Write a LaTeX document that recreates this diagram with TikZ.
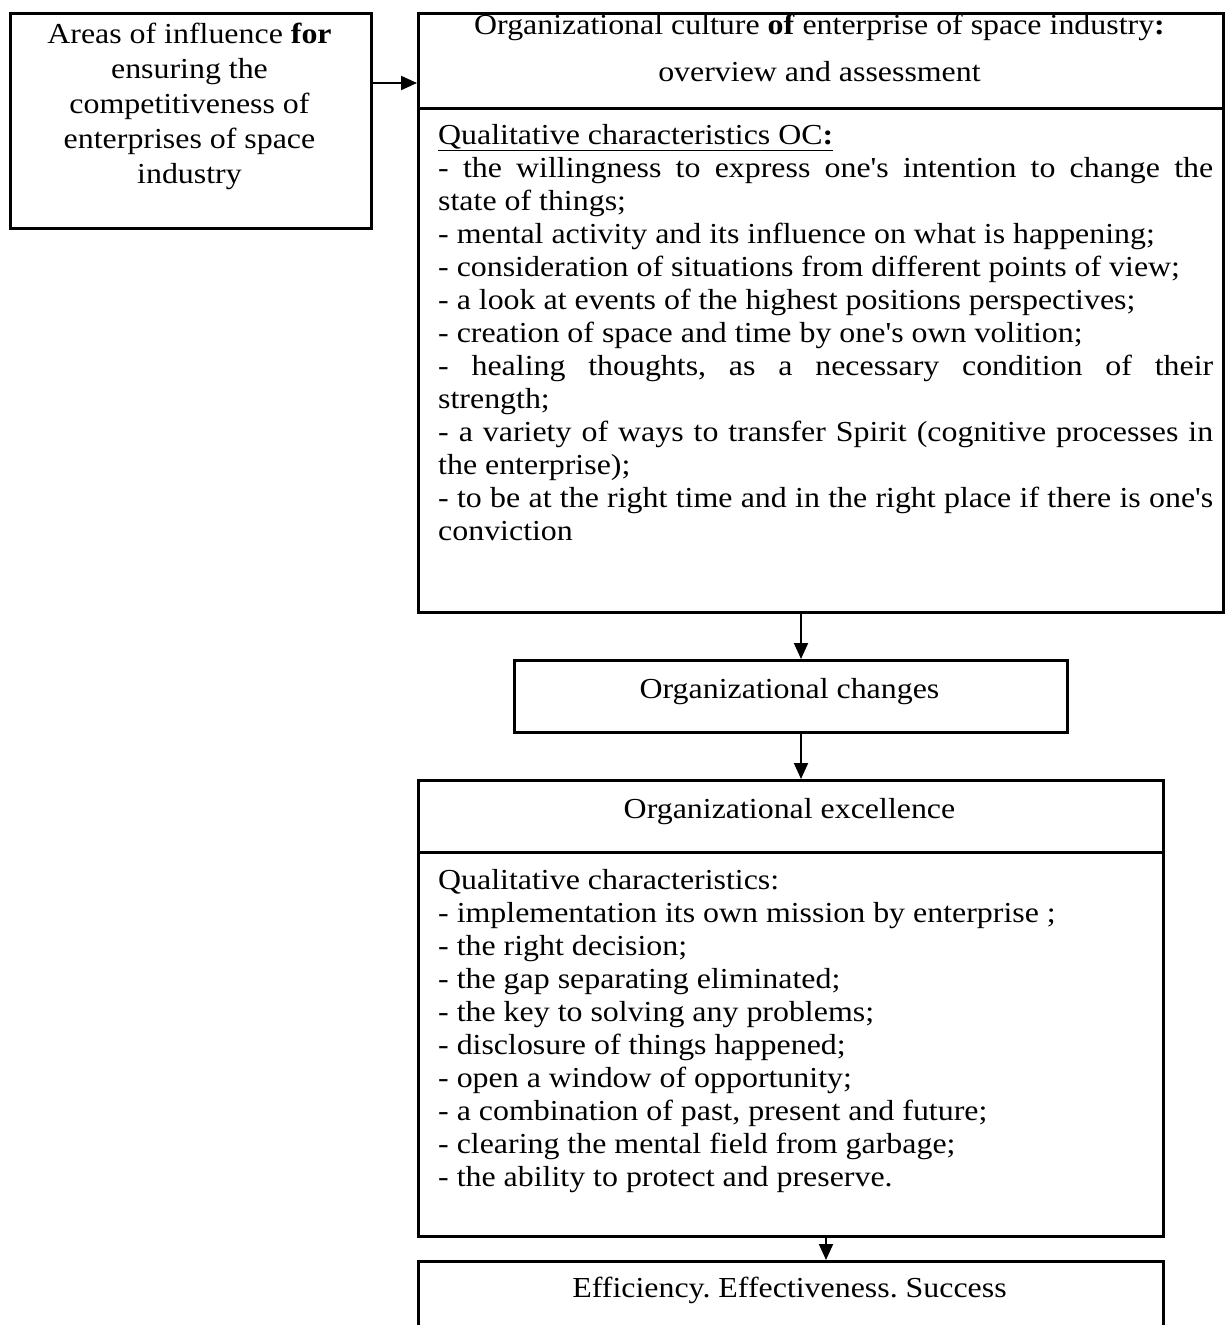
\documentclass[tikz,border=0pt]{standalone}
\usepackage{fontspec}
\setmainfont{Liberation Serif}[Ligatures=TeXOff, FakeStretch=1.1]
\usetikzlibrary{arrows.meta,calc}
\begin{document}
\frenchspacing
\begin{tikzpicture}[x=1pt,y=-1pt,
  box/.style={draw, line width=2.6pt, inner sep=0pt, anchor=north west},
  arr/.style={line width=2pt, -{Triangle[length=16pt,width=14pt]}},
  txt/.style={inner sep=0pt, font=\fontsize{29}{33}\selectfont\frenchspacing},
  lft/.style={inner sep=0pt, font=\fontsize{29}{35}\selectfont\frenchspacing},
  ttl/.style={inner sep=0pt, font=\fontsize{29}{47}\selectfont\frenchspacing}
]
\useasboundingbox (0,0) rectangle (1224,1325);
% boxes
\node[box, minimum width=361pt, minimum height=215pt] (left) at (9,12) {};
\node[box, minimum width=805pt, minimum height=95pt] (rhead) at (417,12) {};
\node[box, minimum width=805pt, minimum height=504pt] (rbody) at (417,107) {};
\node[box, minimum width=553pt, minimum height=72pt] (changes) at (513,659) {};
\node[box, minimum width=745pt, minimum height=72pt] (ehead) at (417,779) {};
\node[box, minimum width=745pt, minimum height=384pt] (ebody) at (417,851) {};
\node[box, minimum width=745pt, minimum height=140pt] (eff) at (417,1260) {};
% texts
\node[lft, align=center, anchor=north] (ltext) at (189.5,18.5)
  {\strut Areas of influence \textbf{for}\\ensuring the\\competitiveness of\\enterprises of space\\industry};
\node[ttl, align=center, anchor=north] (rtitle) at (819.5,1.1)
  {\strut Organizational culture \textbf{of} enterprise of space industry\textbf{:}\\overview and assessment};
\node[txt, align=left, anchor=north west] (rtext) at (438,120.9)
  {\strut\underline{Qualitative characteristics OC\textbf{:}}\\
   \makebox[775pt][s]{- the willingness to express one's intention to change the}\\
   state of things;\\
   - mental activity and its influence on what is happening;\\
   - consideration of situations from different points of view;\\
   - a look at events of the highest positions perspectives;\\
   - creation of space and time by one's own volition;\\
   \makebox[775pt][s]{- healing thoughts, as a necessary condition of their}\\
   strength;\\
   \makebox[775pt][s]{- a variety of ways to transfer Spirit (cognitive processes in}\\
   the enterprise);\\
   \makebox[775pt][s]{- to be at the right time and in the right place if there is one's}\\
   conviction};
\node[txt, anchor=base] (ctext) at (789.5,698) {Organizational changes};
\node[txt, anchor=base] (etitle) at (789.5,818) {Organizational excellence};
\node[txt, align=left, anchor=north west] (etext) at (438,865.9)
  {\strut Qualitative characteristics:\\
   - implementation its own mission by enterprise ;\\
   - the right decision;\\
   - the gap separating eliminated;\\
   - the key to solving any problems;\\
   - disclosure of things happened;\\
   - open a window of opportunity;\\
   - a combination of past, present and future;\\
   - clearing the mental field from garbage;\\
   - the ability to protect and preserve.};
\node[txt, anchor=base] (efftext) at (789.5,1297) {Efficiency. Effectiveness. Success};
% connectors
\coordinate (ya) at (0,83);
\coordinate (xa) at (801,0);
\coordinate (xb) at (826,0);
\draw[arr] (left.east |- ya) -- (rhead.west |- ya);
\draw[arr] (rbody.south -| xa) -- (changes.north -| xa);
\draw[arr] (changes.south -| xa) -- (ehead.north -| xa);
\draw[arr] (ebody.south -| xb) -- (eff.north -| xb);
\end{tikzpicture}
\end{document}
